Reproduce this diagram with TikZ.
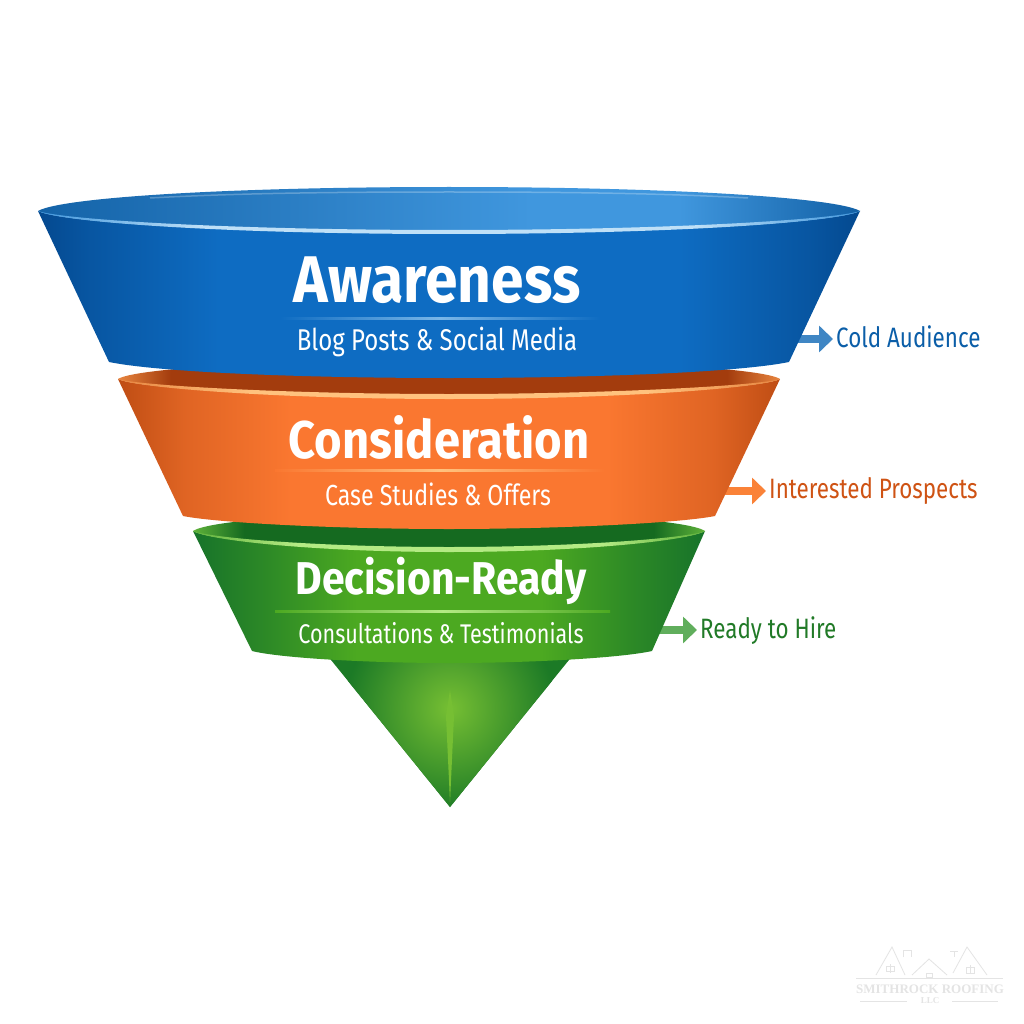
\documentclass[tikz,border=0pt]{standalone}
\usepackage{xcolor}
\usepackage{fontspec}
\setmainfont{Fira Sans}[FakeStretch=0.8]
\newfontfamily\titlefont{Fira Sans}[FakeStretch=0.89]
\newfontfamily\logofont{Liberation Serif}
\usetikzlibrary{arrows.meta}

\definecolor{blueedge}{HTML}{04498F}
\definecolor{bluebody}{HTML}{0E6CC2}
\definecolor{bluerimdark}{HTML}{1463A8}
\definecolor{bluerimlight}{HTML}{4097DE}
\definecolor{blueglow}{HTML}{BFE0F7}
\definecolor{bluearrow}{HTML}{3F86C4}
\definecolor{bluetext}{HTML}{0B5EA8}
\definecolor{orangeedge}{HTML}{BF4D14}
\definecolor{orangebody}{HTML}{FA7730}
\definecolor{orangerimdark}{HTML}{A33C0D}
\definecolor{orangerimlight}{HTML}{E8853F}
\definecolor{orangeglow}{HTML}{FFC27E}
\definecolor{orangearrow}{HTML}{FA8238}
\definecolor{orangetext}{HTML}{CF5314}
\definecolor{greenedge}{HTML}{17732A}
\definecolor{greenbody}{HTML}{4CA921}
\definecolor{greenrimdark}{HTML}{156A20}
\definecolor{greenrimlight}{HTML}{5FB23A}
\definecolor{greenglow}{HTML}{B4EA84}
\definecolor{greenarrow}{HTML}{60AE5C}
\definecolor{greentext}{HTML}{217A27}
\definecolor{coneglow}{HTML}{76BF33}
\definecolor{coneedge}{HTML}{1C7A26}
\definecolor{logogrey}{HTML}{E4E4E4}

\pgfdeclarehorizontalshading{bluewall}{100bp}{color(0bp)=(blueedge); color(25bp)=(blueedge); color(28bp)=(blueedge!65!bluebody); color(36bp)=(bluebody); color(64bp)=(bluebody); color(72bp)=(blueedge!65!bluebody); color(75bp)=(blueedge); color(100bp)=(blueedge)}
\pgfdeclarehorizontalshading{orangewall}{100bp}{color(0bp)=(orangeedge); color(25bp)=(orangeedge); color(30bp)=(orangeedge!45!orangebody); color(38bp)=(orangebody); color(62bp)=(orangebody); color(70bp)=(orangeedge!45!orangebody); color(75bp)=(orangeedge); color(100bp)=(orangeedge)}
\pgfdeclarehorizontalshading{greenwall}{100bp}{color(0bp)=(greenedge); color(25bp)=(greenedge); color(32bp)=(greenedge!60!greenbody); color(41bp)=(greenbody); color(59bp)=(greenbody); color(68bp)=(greenedge!60!greenbody); color(75bp)=(greenedge); color(100bp)=(greenedge)}
\pgfdeclarehorizontalshading{bluerim}{100bp}{color(0bp)=(bluerimdark); color(25bp)=(bluerimdark); color(55bp)=(bluerimlight); color(64bp)=(bluerimlight); color(75bp)=(bluerimdark!90!blueedge); color(100bp)=(bluerimdark)}
\pgfdeclarehorizontalshading{orangerim}{100bp}{color(0bp)=(orangerimlight); color(25bp)=(orangerimlight); color(29bp)=(orangerimdark); color(71bp)=(orangerimdark); color(75bp)=(orangerimlight); color(100bp)=(orangerimlight)}
\pgfdeclarehorizontalshading{greenrim}{100bp}{color(0bp)=(greenrimlight); color(25bp)=(greenrimlight); color(30bp)=(greenrimdark); color(70bp)=(greenrimdark); color(75bp)=(greenrimlight); color(100bp)=(greenrimlight)}
\pgfdeclarehorizontalshading{blueline}{100bp}{color(0bp)=(bluerimlight); color(25bp)=(bluerimlight); color(35bp)=(blueglow); color(65bp)=(blueglow); color(75bp)=(bluerimlight); color(100bp)=(bluerimlight)}
\pgfdeclarehorizontalshading{orangeline}{100bp}{color(0bp)=(orangerimlight); color(25bp)=(orangerimlight); color(35bp)=(orangeglow); color(65bp)=(orangeglow); color(75bp)=(orangerimlight); color(100bp)=(orangerimlight)}
\pgfdeclarehorizontalshading{greenline}{100bp}{color(0bp)=(greenrimlight); color(25bp)=(greenrimlight); color(35bp)=(greenglow); color(65bp)=(greenglow); color(75bp)=(greenrimlight); color(100bp)=(greenrimlight)}

\tikzset{
    x=1pt, y=-1pt,
    band-title/.style = {text=white, font=\titlefont\fontsize{#1}{#1}\selectfont\bfseries, inner sep=0pt},
    band-sub/.style = {text=white, font=\fontsize{#1}{#1}\selectfont, inner sep=0pt},
    side-label/.style = {font=\fontsize{28}{28}\selectfont, anchor=west, inner sep=3pt},
    side-arrow/.style = {line width=8pt, -{Triangle[length=14pt,width=26pt]}},
    logo-line/.style = {draw=logogrey, line width=0.8pt},
}

\begin{document}
\begin{tikzpicture}
\useasboundingbox[fill=white] (0,0) rectangle (1024,1024);

% side labels and arrows
\node[side-label, text=bluetext] (cold) at (833,337) {Cold Audience};
\node[side-label, text=orangetext] (interested) at (766,491) {Interested Prospects};
\node[side-label, text=greentext] (hire) at (697,631) {Ready to Hire};
\coordinate (coldstart) at (785,339);
\coordinate (interestedstart) at (715,491);
\coordinate (hirestart) at (650,630);
\draw[side-arrow, color=bluearrow] (coldstart) -- (cold.west |- coldstart);
\draw[side-arrow, color=orangearrow] (interestedstart) -- (interested.west |- interestedstart);
\draw[side-arrow, color=greenarrow] (hirestart) -- (hire.west |- hirestart);

% tip of the funnel
\begin{scope}
\clip (327,655) -- (573,655) -- (450,807) -- cycle;
\fill[coneedge] (320,650) rectangle (580,810);
\shade[inner color=coneglow, outer color=coneedge] (450,708) circle (105);
\fill[coneglow] (450,690) -- (454,716) -- (450,802) -- (446,716) -- cycle;
\end{scope}

% decision-ready band
\shade[shading=greenwall] (193,531) .. controls (210,541) and (320,549) .. (449,549)
    .. controls (578,549) and (688,541) .. (705,531) -- (652,651)
    .. controls (620,658) and (530,663) .. (449,663)
    .. controls (368,663) and (280,658) .. (252,651) -- cycle;
\shade[shading=greenrim] (193,531) .. controls (210,520) and (320,513) .. (449,513)
    .. controls (578,513) and (688,520) .. (705,531)
    .. controls (688,541) and (578,549) .. (449,549)
    .. controls (320,549) and (210,541) .. (193,531) -- cycle;
\shade[shading=greenline] (193,531) .. controls (210,541) and (320,552) .. (449,552)
    .. controls (578,552) and (688,541) .. (705,531)
    .. controls (688,538) and (578,547) .. (449,547)
    .. controls (320,547) and (210,538) .. (193,531) -- cycle;

% consideration band
\shade[shading=orangewall] (118,379) .. controls (135,388) and (280,397) .. (449,397)
    .. controls (618,397) and (763,388) .. (780,379) -- (715,516)
    .. controls (680,523) and (560,529) .. (449,529)
    .. controls (338,529) and (218,523) .. (183,516) -- cycle;
\shade[shading=orangerim] (118,379) .. controls (135,368) and (280,360) .. (449,360)
    .. controls (618,360) and (763,368) .. (780,379)
    .. controls (763,388) and (618,397) .. (449,397)
    .. controls (280,397) and (135,388) .. (118,379) -- cycle;
\shade[shading=orangeline] (118,379) .. controls (135,388) and (280,399) .. (449,399)
    .. controls (618,399) and (763,388) .. (780,379)
    .. controls (763,385) and (618,394) .. (449,394)
    .. controls (280,394) and (135,385) .. (118,379) -- cycle;

% awareness band
\shade[shading=bluewall] (38,211) .. controls (60,222) and (220,233) .. (449,233)
    .. controls (678,233) and (838,222) .. (860,211) -- (789,362)
    .. controls (740,372) and (600,378) .. (449,378)
    .. controls (298,378) and (158,372) .. (109,362) -- cycle;
\shade[shading=bluerim] (38,211) .. controls (60,198) and (220,187) .. (449,187)
    .. controls (678,187) and (838,198) .. (860,211)
    .. controls (838,222) and (678,233) .. (449,233)
    .. controls (220,233) and (60,222) .. (38,211) -- cycle;
\draw[white, opacity=0.25, line width=1.5pt] (150,198) .. controls (240,193) and (340,192) .. (449,192)
    .. controls (558,192) and (658,193) .. (748,198);
\shade[shading=blueline] (38,211) .. controls (60,222) and (220,234) .. (449,234)
    .. controls (678,234) and (838,222) .. (860,211)
    .. controls (838,219) and (678,230) .. (449,230)
    .. controls (220,230) and (60,219) .. (38,211) -- cycle;

% titles and dividers
\node[band-title=66] (awareness) at (437,280) {Awareness};
\shade[left color=bluebody, right color=bluebody, middle color=bluerimlight!70!white] (280,317) rectangle (600,319);
\node[band-sub=30] (awarenesssub) at (437,342) {Blog Posts \& Social Media};

\node[band-title=53] (consideration) at (439,437) {Consideration};
\shade[left color=orangebody, right color=orangebody, middle color=orangeglow] (275,469) rectangle (605,471);
\node[band-sub=29] (considerationsub) at (438,494) {Case Studies \& Offers};

\node[band-title=46] (decision) at (441,581) {Decision-Ready};
\shade[left color=greenbody, right color=greenbody, middle color=greenglow] (275,610) rectangle (610,612);
\node[band-sub=27] (decisionsub) at (441,633) {Consultations \& Testimonials};

% faint logo
\draw[logo-line] (856,978) -- (1003,978);
\draw[logo-line] (876,975) -- (892,947) -- (905,975);
\draw[logo-line] (912,975) -- (929,959) -- (947,975);
\draw[logo-line] (953,973) -- (967,947) -- (987,975);
\draw[logo-line] (903,957) -- (903,950) -- (911,950) -- (911,957);
\draw[logo-line] (950,951) -- (958,951) (954,951) -- (954,957);
\draw[logo-line] (886,971) rectangle (894,966) (890,964) -- (890,973);
\draw[logo-line] (926,977) rectangle (932,973);
\draw[logo-line] (966,973) rectangle (974,967) (970,965) -- (970,974);
\node[inner sep=0pt, text=logogrey, font=\logofont\bfseries\fontsize{13}{13}\selectfont] (logoname) at (930,989) {SMITHROCK ROOFING};
\node[inner sep=0pt, text=logogrey, font=\logofont\bfseries\fontsize{9}{9}\selectfont] (logollc) at (930,1001) {LLC};
\draw[logo-line] (860,1001) -- (907,1001) (952,1001) -- (998,1001);
\end{tikzpicture}
\end{document}
